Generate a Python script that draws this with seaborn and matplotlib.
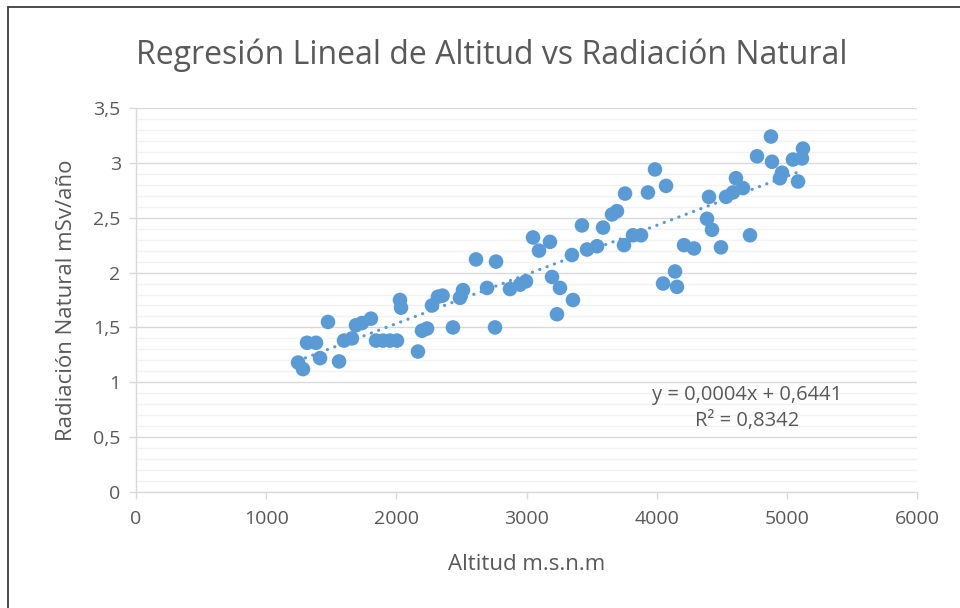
import matplotlib
matplotlib.use("Agg")
import matplotlib.pyplot as plt
import seaborn as sns
import numpy as np
import pandas as pd
from matplotlib.lines import Line2D
from matplotlib.ticker import MultipleLocator, FixedLocator, FuncFormatter

altitud = [1245, 1283, 1314, 1383, 1414, 1475, 1560, 1598, 1659, 1690,
           1736, 1805, 1844, 1898, 1951, 2005, 2028, 2036, 2166, 2197,
           2236, 2274, 2320, 2355, 2435, 2489, 2512, 2612, 2697, 2766,
           2758, 2873, 2950, 2996, 3050, 3096, 3180, 3196, 3257, 3234,
           3349, 3357, 3426, 3465, 3542, 3588, 3657, 3695, 3749, 3757,
           3818, 3880, 3933, 3987, 4049, 4072, 4141, 4156, 4210, 4287,
           4387, 4402, 4425, 4494, 4533, 4586, 4609, 4663, 4717, 4771,
           4878, 4886, 4947, 4963, 5047, 5086, 5116, 5124]
radiacion = [1.18, 1.12, 1.36, 1.36, 1.22, 1.55, 1.19, 1.38, 1.40, 1.52,
             1.54, 1.58, 1.38, 1.38, 1.38, 1.38, 1.75, 1.68, 1.28, 1.47,
             1.49, 1.70, 1.78, 1.79, 1.50, 1.77, 1.84, 2.12, 1.86, 2.10,
             1.50, 1.85, 1.89, 1.92, 2.32, 2.20, 2.28, 1.96, 1.86, 1.62,
             2.16, 1.75, 2.43, 2.21, 2.24, 2.41, 2.53, 2.56, 2.25, 2.72,
             2.34, 2.34, 2.73, 2.94, 1.90, 2.79, 2.01, 1.87, 2.25, 2.22,
             2.49, 2.69, 2.39, 2.23, 2.69, 2.73, 2.86, 2.77, 2.34, 3.06,
             3.24, 3.01, 2.86, 2.91, 3.03, 2.83, 3.04, 3.13]

title = "Regresión Lineal de Altitud vs Radiación Natural"
xlabel = "Altitud m.s.n.m"
ylabel = "Radiación Natural mSv/año"
eq_text = "y = 0,0004x + 0,6441\nR² = 0,8342"
x_ticks = [0, 1000, 2000, 3000, 4000, 5000, 6000]
y_ticks = [0, 0.5, 1, 1.5, 2, 2.5, 3, 3.5]

df = pd.DataFrame({"altitud": altitud, "radiacion": radiacion})

sns.set_theme(style="white")
plt.rcParams["font.family"] = ["Open Sans", "DejaVu Sans"]

TXT = "#595959"
BLUE = "#5B9BD5"

fig = plt.figure(figsize=(9.6, 6.08), dpi=100)
ax = fig.add_axes([136/960, 1-492/608, (917-136)/960, (492-108)/608])

sns.regplot(data=df, x="altitud", y="radiacion", ax=ax, ci=None,
            scatter_kws=dict(s=110, color=BLUE, alpha=1, edgecolors="none", zorder=3),
            line_kws=dict(color=BLUE, linewidth=2.3, linestyle=(0, (0.05, 2.4)),
                          dash_capstyle="round", zorder=4))

ax.set_xlim(0, 6000)
ax.set_ylim(0, 3.5)
ax.xaxis.set_major_locator(FixedLocator(x_ticks))
ax.yaxis.set_major_locator(FixedLocator(y_ticks))
ax.yaxis.set_minor_locator(MultipleLocator(0.1))

def comma(v, pos):
    s = ("%g" % v)
    return s.replace(".", ",")
ax.yaxis.set_major_formatter(FuncFormatter(comma))
ax.xaxis.set_major_formatter(FuncFormatter(lambda v, p: "%d" % v))

ax.set_axisbelow(True)
ax.grid(which="major", axis="y", color="#D9D9D9", linewidth=1.0)
ax.grid(which="minor", axis="y", color="#F2F2F2", linewidth=1.0)
ax.grid(which="major", axis="x", visible=False)

for s in ["top", "right"]:
    ax.spines[s].set_visible(False)
for s in ["left", "bottom"]:
    ax.spines[s].set_color("#D9D9D9")
    ax.spines[s].set_linewidth(1.0)

ax.tick_params(axis="both", which="major", length=5, width=1, color="#D9D9D9",
               labelsize=14, labelcolor=TXT, direction="out", pad=6)
ax.tick_params(axis="y", which="minor", length=0)
ax.tick_params(axis="x", which="major", bottom=True, pad=8)
ax.tick_params(axis="y", which="major", left=True)

ax.set_xlabel(xlabel, fontsize=16, color=TXT, labelpad=19)
ax.set_ylabel(ylabel, fontsize=16, color=TXT, labelpad=12)

ax.text(4694, 0.766, eq_text, fontsize=14.5, color=TXT, ha="center", va="center",
        linespacing=1.45)

fig.text(492/960, 1-55/608, title, fontsize=23, color=TXT, ha="center", va="center")

fig.add_artist(Line2D([8/960, 8/960], [0, 1-7/608], color="#404040", linewidth=1.3,
                      transform=fig.transFigure))
fig.add_artist(Line2D([8/960, 1], [1-7/608, 1-7/608], color="#404040", linewidth=1.3,
                      transform=fig.transFigure))

fig.savefig("out.png", dpi=100)
